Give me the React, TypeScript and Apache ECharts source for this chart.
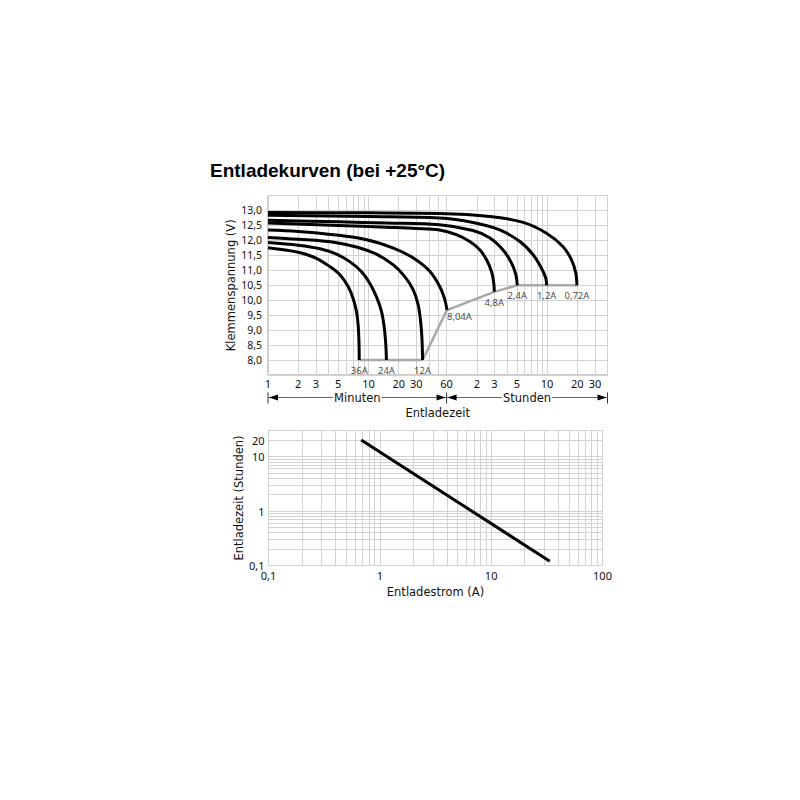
import * as echarts from 'echarts';
import React, { useEffect, useRef } from 'react';

// Entladekurven, Punkte als [Minuten, Volt]
const curve36A = [[1, 11.75], [2, 11.6], [3, 11.41], [4.1, 11.13], [5.2, 10.85], [6.3, 10.45], [7.05, 10.05], [7.6, 9.62], [7.9, 9.17], [8.05, 8.6], [8.1, 8.0]];
const curve24A = [[1, 11.93], [2, 11.84], [3.3, 11.72], [4.8, 11.54], [6.5, 11.29], [8.5, 10.96], [10.3, 10.57], [12, 10.12], [13.5, 9.62], [14.4, 9.06], [14.9, 8.5], [15.1, 8.0]];
const curve12A = [[1, 12.1], [2, 12.04], [4.5, 11.94], [7.6, 11.78], [12, 11.54], [17.7, 11.18], [23, 10.79], [28, 10.34], [31.3, 9.84], [33.1, 9.28], [34.1, 8.73], [34.6, 8.0]];
const curve8A = [[1, 12.35], [2, 12.3], [4.5, 12.19], [9.6, 12.02], [17.7, 11.74], [28, 11.41], [41, 10.96], [51.4, 10.45], [57.7, 10.01], [60.5, 9.67]];
const curve4_8A = [[1, 12.58], [5, 12.5], [15, 12.44], [30, 12.4], [51, 12.35], [75, 12.19], [102, 11.96], [129, 11.68], [150, 11.35], [168, 10.96], [177, 10.57], [179, 10.28]];
const curve2_4A = [[1, 12.67], [5, 12.62], [15, 12.58], [51, 12.52], [110, 12.33], [162, 12.08], [219, 11.68], [266, 11.24], [294, 10.85], [303, 10.5]];
const curve1_2A = [[1, 12.84], [10, 12.8], [51, 12.75], [110, 12.6], [203, 12.35], [322, 11.96], [436, 11.52], [528, 11.07], [583, 10.74], [595, 10.5]];
const curve0_72A = [[1, 12.93], [10, 12.92], [51, 12.9], [162, 12.8], [347, 12.6], [593, 12.24], [867, 11.79], [1052, 11.35], [1161, 10.9], [1190, 10.5]];
const curveNames = ['36A', '24A', '12A', '8,04A', '4,8A', '2,4A', '1,2A', '0,72A'];
const limitLine = [[8.1, 8.0], [34.6, 8.0], [60.5, 9.67], [179, 10.28], [303, 10.5], [1210, 10.5]];

const minuteGrid = [1, 2, 3, 4, 5, 6, 7, 8, 9, 10, 20, 30, 40, 50, 60, 120, 180, 240, 300, 360, 420, 480, 540, 600, 1200, 1800, 2400];
const minuteTicks = [1, 2, 3, 5, 10, 20, 30, 60, 120, 180, 300, 600, 1200, 1800];
const minuteTickText = ['1', '2', '3', '5', '10', '20', '30', '60', '2', '3', '5', '10', '20', '30'];
const voltTicks = [8, 8.5, 9, 9.5, 10, 10.5, 11, 11.5, 12, 12.5, 13];

// Entladezeit über Entladestrom
const lifeCurrent = [0.68, 33.6];
const lifeHours = [20, 0.12];
const currentGrid = [0.1, 0.2, 0.3, 0.4, 0.5, 0.6, 0.7, 0.8, 0.9, 1, 2, 3, 4, 5, 6, 7, 8, 9, 10, 20, 30, 40, 50, 60, 70, 80, 90, 100];
const currentTicks = [0.1, 1, 10, 100];
const currentTickText = ['0,1', '1', '10', '100'];
const hourGrid = [0.1, 0.2, 0.3, 0.4, 0.5, 0.6, 0.7, 0.8, 0.9, 1, 2, 3, 4, 5, 6, 7, 8, 9, 10, 20, 30];
const hourTicks = [0.1, 1, 10, 20];
const hourTickText = ['0,1', '1', '10', '20'];

const pick = (ticks: number[], texts: string[]) => (v: number) => {
  const i = ticks.findIndex((t) => Math.abs(t - v) < t * 1e-6);
  return i < 0 ? '' : texts[i];
};

const tickFont = { fontFamily: 'Noto Sans', fontSize: 11, color: '#111' };
const nameFont = { fontFamily: 'DejaVu Sans', fontSize: 11.5, color: '#111' };
const gridLine = { show: true, lineStyle: { color: '#d2d2d2', width: 1 } };

const App: React.FC = () => {
  const ref = useRef<HTMLDivElement>(null);
  const chart = useRef<echarts.ECharts>();

  useEffect(() => {
    const curves = [curve36A, curve24A, curve12A, curve8A, curve4_8A, curve2_4A, curve1_2A, curve0_72A];
    chart.current = echarts.init(ref.current, null, { renderer: 'svg' });
    const c = chart.current;
    c.setOption({
      animation: false,
      title: {
        text: 'Entladekurven (bei +25°C)',
        left: 202,
        top: 153,
        padding: 0,
        textStyle: { fontFamily: 'Liberation Sans', fontWeight: 'bold', fontSize: 19, color: '#000' },
      },
      grid: [
        { left: 260, top: 187.5, width: 339.5, height: 179.5, show: true, borderColor: '#999', borderWidth: 1 },
        { left: 260.5, top: 422.5, width: 334, height: 135, show: true, borderColor: '#999', borderWidth: 1 },
      ],
      xAxis: [
        {
          type: 'log',
          gridIndex: 0,
          min: 1,
          max: 2400,
          name: 'Entladezeit',
          nameLocation: 'middle',
          nameGap: 32,
          nameTextStyle: nameFont,
          axisLine: { show: false },
          axisTick: { show: false, customValues: minuteGrid },
          axisLabel: { ...tickFont, margin: 3, customValues: minuteTicks, formatter: pick(minuteTicks, minuteTickText) },
          splitLine: gridLine,
        },
        {
          type: 'log',
          gridIndex: 1,
          min: 0.1,
          max: 100,
          name: 'Entladestrom (A)',
          nameLocation: 'middle',
          nameGap: 20,
          nameTextStyle: nameFont,
          axisLine: { show: false },
          axisTick: { show: false, customValues: currentGrid },
          axisLabel: { ...tickFont, margin: 4, customValues: currentTicks, formatter: pick(currentTicks, currentTickText) },
          splitLine: gridLine,
        },
      ],
      yAxis: [
        {
          type: 'value',
          gridIndex: 0,
          min: 7.5,
          max: 13.5,
          interval: 0.5,
          name: 'Klemmenspannung (V)',
          nameLocation: 'middle',
          nameGap: 29,
          nameTextStyle: nameFont,
          axisLine: { show: false },
          axisTick: { show: false },
          axisLabel: {
            ...tickFont,
            fontSize: 10.5,
            margin: 6,
            customValues: voltTicks,
            formatter: (v: number) => v.toFixed(1).replace('.', ','),
          },
          splitLine: gridLine,
        },
        {
          type: 'log',
          gridIndex: 1,
          min: 0.1,
          max: 30,
          name: 'Entladezeit (Stunden)',
          nameLocation: 'middle',
          nameGap: 18,
          nameTextStyle: nameFont,
          axisLine: { show: false },
          axisTick: { show: false, customValues: hourGrid },
          axisLabel: { ...tickFont, margin: 4, customValues: hourTicks, formatter: pick(hourTicks, hourTickText) },
          splitLine: gridLine,
        },
      ],
      series: [
        {
          type: 'line',
          xAxisIndex: 0,
          yAxisIndex: 0,
          data: limitLine,
          symbol: 'none',
          lineStyle: { color: '#a8a8a8', width: 2.5 },
          z: 2,
        },
        ...curves.map((data) => ({
          type: 'line',
          xAxisIndex: 0,
          yAxisIndex: 0,
          data,
          symbol: 'none',
          smooth: 0.35,
          lineStyle: { color: '#000', width: 3, join: 'round' },
          z: 3,
        })),
        {
          type: 'scatter',
          xAxisIndex: 0,
          yAxisIndex: 0,
          symbolSize: 1,
          itemStyle: { color: 'transparent' },
          data: curves.map((d, i) => ({
            name: curveNames[i],
            value: d[d.length - 1],
            label: i === 3 ? { align: 'left', distance: 1 } : undefined,
          })),
          label: {
            show: true,
            position: 'bottom',
            distance: 5,
            formatter: '{b}',
            fontFamily: 'Noto Sans',
            fontSize: 9.5,
            color: '#111',
          },
          z: 4,
        },
        {
          type: 'line',
          xAxisIndex: 1,
          yAxisIndex: 1,
          data: lifeCurrent.map((a, i) => [a, lifeHours[i]]),
          symbol: 'none',
          lineStyle: { color: '#000', width: 3 },
        },
      ],
    });

    // Minuten / Stunden Pfeile unter der oberen Achse
    const x1 = c.convertToPixel({ xAxisIndex: 0 }, 1) as number;
    const x60 = c.convertToPixel({ xAxisIndex: 0 }, 60) as number;
    const xEnd = c.convertToPixel({ xAxisIndex: 0 }, 2400) as number;
    const y = (c.convertToPixel({ yAxisIndex: 0 }, 7.5) as number) + 22.5;
    const ink = '#333';
    const bar = (x: number) => ({ type: 'line', shape: { x1: x, y1: y - 5, x2: x, y2: y + 6 }, style: { stroke: ink, lineWidth: 1 } });
    const arrow = (x: number, dir: number) => ({
      type: 'polygon',
      shape: { points: [[x, y], [x + dir * 9, y - 3], [x + dir * 9, y + 3]] },
      style: { fill: '#000' },
    });
    const span = (a: number, b: number, text: string) => [
      { type: 'line', shape: { x1: a, y1: y, x2: b, y2: y }, style: { stroke: '#666', lineWidth: 1 } },
      arrow(a + 1, 1),
      arrow(b - 1, -1),
      {
        type: 'text',
        x: (a + b) / 2,
        y,
        style: {
          text,
          align: 'center',
          verticalAlign: 'middle',
          fill: '#111',
          font: '11.5px "DejaVu Sans"',
          backgroundColor: '#fff',
          padding: [0, 1],
        },
      },
    ];
    c.setOption({
      graphic: [bar(x1), bar(x60), bar(xEnd), ...span(x1, x60, 'Minuten'), ...span(x60, xEnd, 'Stunden')],
    });

    return () => {
      chart.current?.dispose();
    };
  }, []);

  return <div ref={ref} style={{ width: 784, height: 784 }}></div>;
};

export default App;
